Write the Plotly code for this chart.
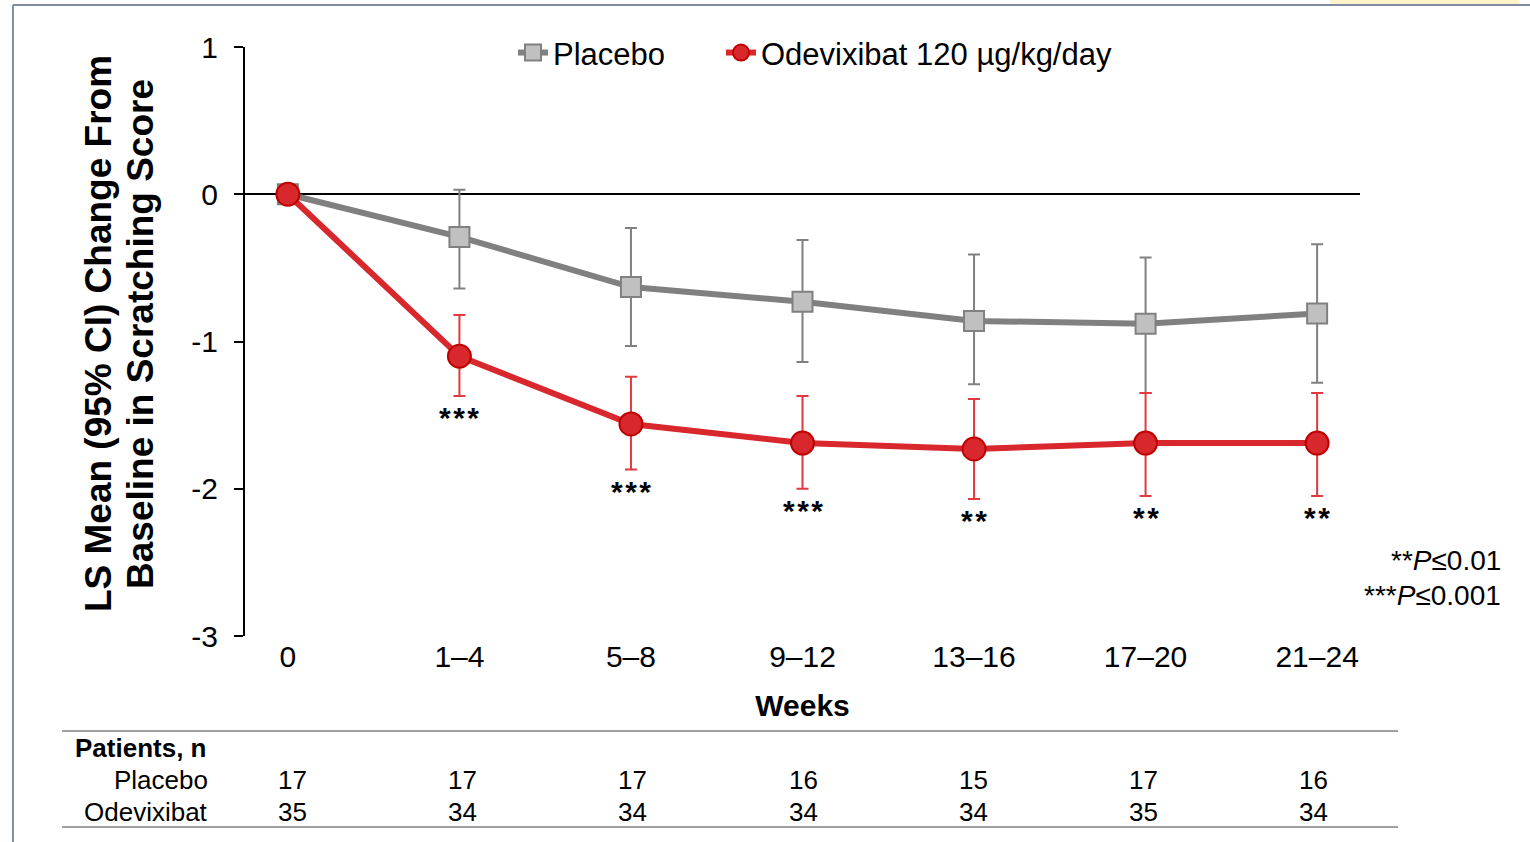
import plotly.graph_objects as go

weeks = ["0", "1–4", "5–8", "9–12", "13–16", "17–20", "21–24"]

placebo_mean = [0, -0.29, -0.63, -0.73, -0.86, -0.88, -0.81]
placebo_upper = [0, 0.03, -0.23, -0.31, -0.41, -0.43, -0.34]
placebo_lower = [0, -0.64, -1.03, -1.14, -1.29, -1.35, -1.28]

odev_mean = [0, -1.10, -1.56, -1.69, -1.73, -1.69, -1.69]
odev_upper = [0, -0.82, -1.24, -1.37, -1.39, -1.35, -1.35]
odev_lower = [0, -1.37, -1.87, -2.00, -2.07, -2.05, -2.05]

significance = ["", "***", "***", "***", "**", "**", "**"]

n_placebo = [17, 17, 17, 16, 15, 17, 16]
n_odev = [35, 34, 34, 34, 34, 35, 34]

FONT = "Liberation Sans, Arial, sans-serif"
GRAY = "#808080"
RED = "#d9282d"

xi = list(range(len(weeks)))

fig = go.Figure()
fig.add_trace(go.Scatter(
    x=xi, y=placebo_mean, mode="lines+markers", name="Placebo", legend="legend",
    line=dict(color=GRAY, width=6),
    marker=dict(symbol="square", size=20, color="#c0c0c0", line=dict(color=GRAY, width=2)),
    error_y=dict(type="data", symmetric=False,
                 array=[u - m for u, m in zip(placebo_upper, placebo_mean)],
                 arrayminus=[m - l for m, l in zip(placebo_mean, placebo_lower)],
                 color=GRAY, thickness=2, width=6),
))
fig.add_trace(go.Scatter(
    x=xi, y=odev_mean, mode="lines+markers", name="Odevixibat 120 µg/kg/day", legend="legend2",
    line=dict(color=RED, width=6),
    marker=dict(symbol="circle", size=23, color=RED, line=dict(color="#c00000", width=2)),
    error_y=dict(type="data", symmetric=False,
                 array=[u - m for u, m in zip(odev_upper, odev_mean)],
                 arrayminus=[m - l for m, l in zip(odev_mean, odev_lower)],
                 color="#e0393e", thickness=2, width=6),
))

annotations = []
for i, s in enumerate(significance):
    if s:
        annotations.append(dict(x=i, y=odev_lower[i], xref="x", yref="y",
                                text="<b>" + "\u200a".join(s) + "</b>",
                                showarrow=False, xanchor="center", yanchor="top", yshift=-3,
                                font=dict(family=FONT, size=30, color="black")))

# y-axis title (two lines)
annotations.append(dict(x=-0.1318, y=0.5127, xref="paper", yref="paper", textangle=-90,
                        xanchor="center", yanchor="middle",
                        text="<b>LS Mean (95% CI) Change From</b>", showarrow=False,
                        font=dict(family=FONT, size=37, color="black")))
annotations.append(dict(x=-0.0942, y=0.5127, xref="paper", yref="paper", textangle=-90,
                        xanchor="center", yanchor="middle",
                        text="<b>Baseline in Scratching Score</b>", showarrow=False,
                        font=dict(family=FONT, size=37, color="black")))

# footnotes
annotations.append(dict(x=1.1283, y=0.129, xref="paper", yref="paper", xanchor="right", yanchor="middle",
                        text="**<i>P</i>≤0.01", showarrow=False,
                        font=dict(family=FONT, size=28, color="black")))
annotations.append(dict(x=1.1283, y=0.0696, xref="paper", yref="paper", xanchor="right", yanchor="middle",
                        text="***<i>P</i>≤0.001", showarrow=False,
                        font=dict(family=FONT, size=28, color="black")))

# patients table
annotations.append(dict(x=-0.1543, y=-0.190, xref="paper", yref="paper", xanchor="left", yanchor="middle",
                        text="<b>Patients, n</b>", showarrow=False,
                        font=dict(family=FONT, size=26, color="black")))
annotations.append(dict(x=-0.0314, y=-0.2445, xref="paper", yref="paper", xanchor="right", yanchor="middle",
                        text="Placebo", showarrow=False,
                        font=dict(family=FONT, size=26, color="black")))
annotations.append(dict(x=-0.0314, y=-0.2988, xref="paper", yref="paper", xanchor="right", yanchor="middle",
                        text="Odevixibat", showarrow=False,
                        font=dict(family=FONT, size=26, color="black")))
for i in xi:
    shift = 5 - 1.5 * i
    annotations.append(dict(x=i, y=-0.2445, xref="x", yref="paper", text=str(n_placebo[i]),
                            showarrow=False, xshift=shift, xanchor="center", yanchor="middle",
                            font=dict(family=FONT, size=26, color="black")))
    annotations.append(dict(x=i, y=-0.2988, xref="x", yref="paper", text=str(n_odev[i]),
                            showarrow=False, xshift=shift, xanchor="center", yanchor="middle",
                            font=dict(family=FONT, size=26, color="black")))

shapes = [
    dict(type="line", xref="paper", yref="paper", x0=-0.1641, x1=1.0341, y0=-0.1613, y1=-0.1613,
         line=dict(color="#404040", width=1)),
    dict(type="line", xref="paper", yref="paper", x0=-0.1641, x1=1.0341, y0=-0.3243, y1=-0.3243,
         line=dict(color="#404040", width=1)),
    # slide frame
    dict(type="line", xref="paper", yref="paper", x0=-0.2081, x1=-0.2081, y0=1.0713, y1=-0.36,
         line=dict(color="#7f8ca2", width=2)),
    dict(type="line", xref="paper", yref="paper", x0=-0.2081, x1=1.16, y0=1.0713, y1=1.0713,
         line=dict(color="#7f8ca2", width=2)),
    dict(type="rect", xref="paper", yref="paper", x0=0.973, x1=1.143, y0=1.0730, y1=1.085,
         line=dict(width=0), fillcolor="#fff3cc", layer="below"),
]

legend_common = dict(orientation="h", yanchor="middle", y=0.99, xanchor="left",
                     font=dict(family=FONT, size=31, color="black"), bgcolor="rgba(0,0,0,0)")

fig.update_layout(
    width=1530, height=842,
    margin=dict(l=245, r=170, t=47, b=206),
    paper_bgcolor="white", plot_bgcolor="white",
    font=dict(family=FONT, size=30, color="black"),
    showlegend=True,
    legend=dict(x=(513 - 245) / 1115, **legend_common),
    legend2=dict(x=(721 - 245) / 1115, **legend_common),
    xaxis=dict(range=[-0.25, 6.25], tickmode="array", tickvals=xi, ticktext=weeks,
               showline=False, showgrid=False, zeroline=False, ticks="",
               tickfont=dict(family=FONT, size=30, color="black"),
               title=dict(text="<b>Weeks</b>", font=dict(family=FONT, size=30, color="black"),
                          standoff=22)),
    yaxis=dict(range=[-3, 1], tickmode="array", tickvals=[1, 0, -1, -2, -3],
               ticktext=["1", "0", "-1", "-2", "-3"],
               showline=True, linecolor="black", linewidth=2,
               ticks="outside", ticklen=9, tickwidth=2, tickcolor="black",
               showgrid=False, zeroline=True, zerolinecolor="black", zerolinewidth=2,
               tickfont=dict(family=FONT, size=30, color="black"), ticklabelstandoff=10),
    annotations=annotations,
    shapes=shapes,
)

fig.write_html("out.html", config={"displayModeBar": False},
               post_script="document.body.style.margin='0px';")
